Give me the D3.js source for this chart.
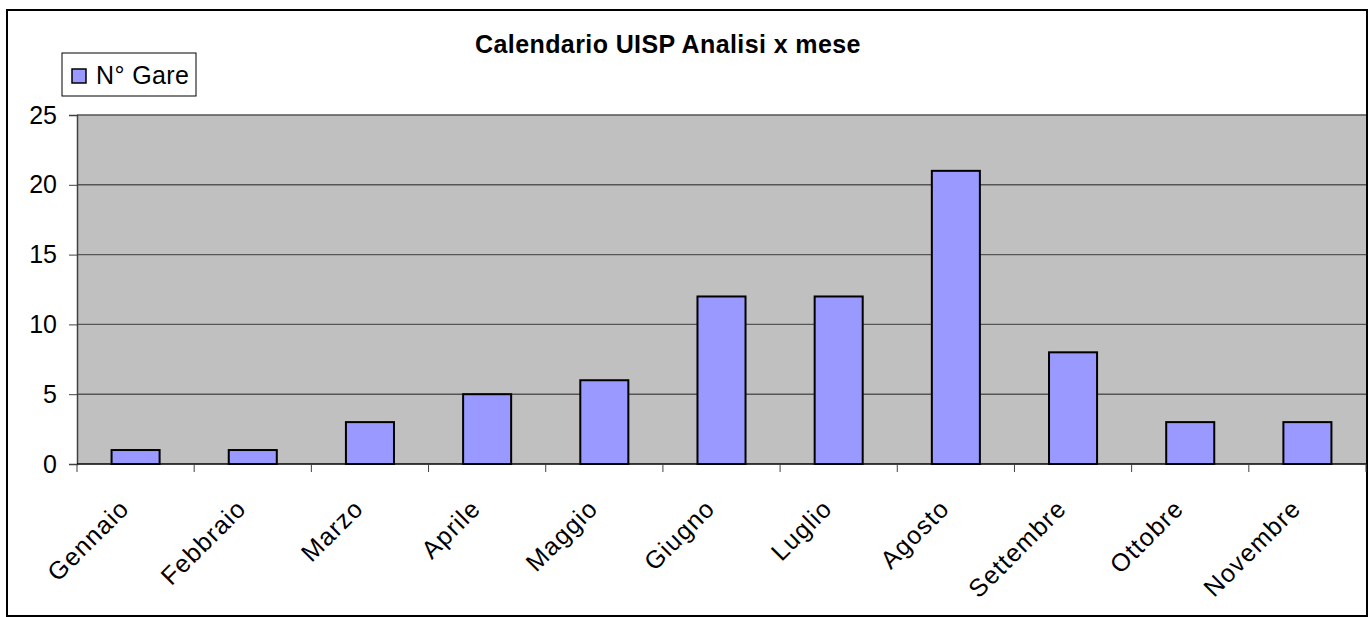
<!DOCTYPE html>
<html>
<head>
<meta charset="utf-8">
<script src="https://cdn.jsdelivr.net/npm/d3@7"></script>
<style>
  body { margin: 0; background: #fff; }
  svg text { font-family: "Liberation Sans", Arial, sans-serif; fill: #000; }
</style>
</head>
<body>
<svg id="chart" width="1370" height="617"></svg>
<script>
'use strict';

const months = ['Gennaio', 'Febbraio', 'Marzo', 'Aprile', 'Maggio', 'Giugno',
  'Luglio', 'Agosto', 'Settembre', 'Ottobre', 'Novembre'];
const gare = [1, 1, 3, 5, 6, 12, 12, 21, 8, 3, 3];
const yTicks = [0, 5, 10, 15, 20, 25];
const seriesName = 'N° Gare';
const title = 'Calendario UISP Analisi x mese';

const svg = d3.select('#chart');
const plot = { left: 77, top: 115, right: 1366, bottom: 464 };
const fontSize = 25;

// outer frame
svg.append('rect')
  .attr('x', 7).attr('y', 10)
  .attr('width', 1360).attr('height', 606)
  .attr('fill', '#fff').attr('stroke', '#000').attr('stroke-width', 2);

const x = d3.scaleBand()
  .domain(months)
  .range([plot.left, plot.right])
  .paddingInner(0.59).paddingOuter(0.295);

const y = d3.scaleLinear()
  .domain([0, 25])
  .range([plot.bottom, plot.top]);

// plot area
svg.append('rect')
  .attr('x', plot.left).attr('y', plot.top)
  .attr('width', plot.right - plot.left).attr('height', plot.bottom - plot.top)
  .attr('fill', '#c0c0c0');

// gridlines
svg.append('g')
  .selectAll('line')
  .data(yTicks.filter(d => d > 0))
  .join('line')
  .attr('x1', plot.left).attr('x2', plot.right)
  .attr('y1', d => y(d)).attr('y2', d => y(d))
  .attr('stroke', '#555').attr('stroke-width', 1.4);

// bars
svg.append('g')
  .selectAll('rect')
  .data(months)
  .join('rect')
  .attr('x', d => x(d))
  .attr('y', (d, i) => y(gare[i]))
  .attr('width', x.bandwidth())
  .attr('height', (d, i) => y(0) - y(gare[i]))
  .attr('fill', '#9999ff')
  .attr('stroke', '#000').attr('stroke-width', 2);

// y axis
const yAxis = svg.append('g')
  .attr('transform', `translate(${plot.left},0)`)
  .call(d3.axisLeft(y).tickValues(yTicks).tickSize(8).tickPadding(12));
yAxis.select('.domain').attr('stroke', '#404040').attr('stroke-width', 1.5);
yAxis.selectAll('.tick line').attr('stroke', '#404040');
yAxis.selectAll('text').attr('font-size', fontSize).attr('fill', '#000')
  .attr('font-family', '"Liberation Sans", Arial, sans-serif');

// x axis, ticks sit between categories
const step = x.step();
const boundaries = d3.range(months.length + 1).map(i => plot.left + i * step);
const xAxis = svg.append('g');
xAxis.append('line')
  .attr('x1', plot.left).attr('x2', plot.right)
  .attr('y1', plot.bottom).attr('y2', plot.bottom)
  .attr('stroke', '#000').attr('stroke-width', 1.5);
xAxis.selectAll('line.tk')
  .data(boundaries)
  .join('line')
  .attr('class', 'tk')
  .attr('x1', d => d).attr('x2', d => d)
  .attr('y1', plot.bottom).attr('y2', plot.bottom + 8)
  .attr('stroke', '#404040');
xAxis.selectAll('text')
  .data(months)
  .join('text')
  .attr('transform', d => `translate(${x(d) + x.bandwidth() / 2 - 5},${plot.bottom + 46}) rotate(-45)`)
  .attr('text-anchor', 'end')
  .attr('font-size', fontSize)
  .attr('letter-spacing', 1.2)
  .text(d => d);

// title
svg.append('text')
  .attr('x', 668).attr('y', 53)
  .attr('text-anchor', 'middle')
  .attr('font-size', fontSize).attr('font-weight', 'bold')
  .attr('letter-spacing', 0.4)
  .text(title);

// legend
const legend = svg.append('g').attr('transform', 'translate(62,53)');
legend.append('rect')
  .attr('width', 134).attr('height', 43)
  .attr('fill', '#fff').attr('stroke', '#000').attr('stroke-width', 1);
legend.append('rect')
  .attr('x', 10).attr('y', 16).attr('width', 14).attr('height', 14)
  .attr('fill', '#9999ff').attr('stroke', '#000').attr('stroke-width', 1.5);
legend.append('text')
  .attr('x', 34).attr('y', 31)
  .attr('font-size', fontSize)
  .attr('letter-spacing', 0.4)
  .text(seriesName);
</script>
</body>
</html>
